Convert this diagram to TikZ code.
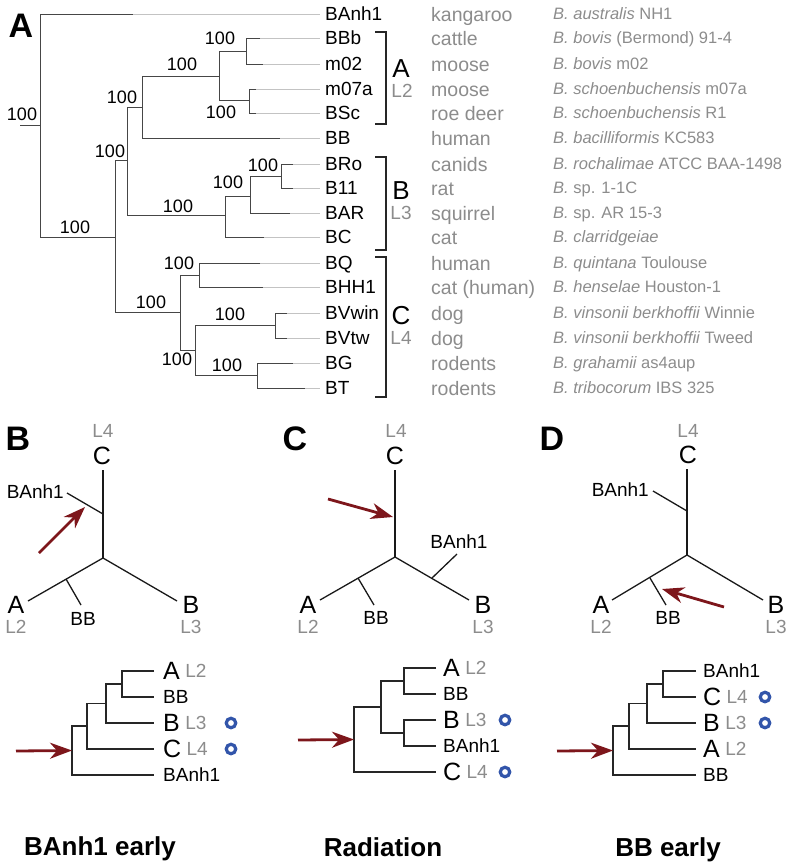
\documentclass[tikz,border=0pt]{standalone}
\usepackage{fontspec}
\setmainfont{Liberation Sans}
\usetikzlibrary{arrows.meta}
\definecolor{tg}{RGB}{140,140,140}
\definecolor{ln}{RGB}{70,70,70}
\definecolor{fade}{RGB}{195,195,195}
\definecolor{ared}{RGB}{125,22,27}
\definecolor{cblue}{RGB}{50,85,170}
\tikzset{
 tipl/.style={anchor=west, inner sep=0pt, font=\fontsize{19}{19}\selectfont, text height=13.6pt, text depth=0pt},
 bsl/.style={inner sep=0pt, font=\fontsize{18}{18}\selectfont, text height=12.9pt, text depth=0pt},
 hostl/.style={anchor=west, inner sep=0pt, text=tg, font=\fontsize{19.5}{19.5}\selectfont, text height=14pt, text depth=0pt},
 specl/.style={anchor=west, inner sep=0pt, text=tg, font=\fontsize{16.5}{16.5}\selectfont, text height=11.8pt, text depth=0pt},
 bigl/.style={inner sep=0pt, font=\fontsize{25}{25}\selectfont, text height=17.9pt, text depth=0pt},
 levl/.style={inner sep=0pt, text=tg, font=\fontsize{19}{19}\selectfont, text height=13.6pt, text depth=0pt},
 smll/.style={inner sep=0pt, font=\fontsize{19}{19}\selectfont, text height=13.6pt, text depth=0pt},
 brl/.style={inner sep=0pt, font=\fontsize{26}{26}\selectfont, text height=18.6pt, text depth=0pt},
 titl/.style={inner sep=0pt, font=\bfseries\fontsize{26}{26}\selectfont, text height=18.6pt, text depth=0pt},
 panl/.style={inner sep=0pt, font=\bfseries\fontsize{34}{34}\selectfont, text height=24.3pt, text depth=0pt},
 brk/.style={line width=1.3pt, draw=black!85},
 ibr/.style={line width=1pt, draw=ln},
 dk/.style={line width=1pt, draw=ln},
 lgt/.style={line width=1pt, draw=fade},
 ut/.style={line width=1.3pt, draw=black!90, line join=miter},
 ct/.style={line width=1.2pt, draw=black!85},
 redarr/.style={draw=ared, line width=2.8pt, -{Stealth[length=22pt,width=16pt,inset=7pt]}},
 circ/.style={circle, draw=cblue, line width=3.2pt, minimum size=9.5pt, inner sep=0pt},
}
\begin{document}
\begin{tikzpicture}[x=1pt,y=-1pt]
\useasboundingbox (0,0) rectangle (793,868);
% ================= Panel A =================
\node[panl] (pA) at (21,25) {A};
% tip labels
\node[tipl] (t1) at (325,14) {BAnh1};
\node[tipl] (t2) at (325,38) {BBb};
\node[tipl] (t3) at (325,64) {m02};
\node[tipl] (t4) at (325,89) {m07a};
\node[tipl] (t5) at (325,113) {BSc};
\node[tipl] (t6) at (325,138) {BB};
\node[tipl] (t7) at (325,164) {BRo};
\node[tipl] (t8) at (325,188) {B11};
\node[tipl] (t9) at (325,213) {BAR};
\node[tipl] (t10) at (325,237) {BC};
\node[tipl] (t11) at (325,263) {BQ};
\node[tipl] (t12) at (325,287) {BHH1};
\node[tipl] (t13) at (325,313) {BVwin};
\node[tipl] (t14) at (325,338) {BVtw};
\node[tipl] (t15) at (325,363) {BG};
\node[tipl] (t16) at (325,388) {BT};
% hosts
\node[hostl] (h1) at (431,14) {kangaroo};
\node[hostl] (h2) at (431,38) {cattle};
\node[hostl] (h3) at (431,64) {moose};
\node[hostl] (h4) at (431,89) {moose};
\node[hostl] (h5) at (431,113) {roe deer};
\node[hostl] (h6) at (431,138) {human};
\node[hostl] (h7) at (431,164) {canids};
\node[hostl] (h8) at (431,188) {rat};
\node[hostl] (h9) at (431,213) {squirrel};
\node[hostl] (h10) at (431,237) {cat};
\node[hostl] (h11) at (431,263) {human};
\node[hostl] (h12) at (431,287) {cat (human)};
\node[hostl] (h13) at (431,313) {dog};
\node[hostl] (h14) at (431,338) {dog};
\node[hostl] (h15) at (431,363) {rodents};
\node[hostl] (h16) at (431,388) {rodents};
% species
\node[specl] (s1) at (553,14) {\itshape B. australis\upshape{} NH1};
\node[specl] (s2) at (553,38) {\itshape B. bovis\upshape{} (Bermond) 91-4};
\node[specl] (s3) at (553,64) {\itshape B. bovis\upshape{} m02};
\node[specl] (s4) at (553,89) {\itshape B. schoenbuchensis\upshape{} m07a};
\node[specl] (s5) at (553,113) {\itshape B. schoenbuchensis\upshape{} R1};
\node[specl] (s6) at (553,138) {\itshape B. bacilliformis\upshape{} KC583};
\node[specl] (s7) at (553,164) {\itshape B. rochalimae\upshape{} ATCC BAA-1498};
\node[specl] (s8) at (553,188) {\itshape B.\upshape{} sp. 1-1C};
\node[specl] (s9) at (553,213) {\itshape B.\upshape{} sp. AR 15-3};
\node[specl] (s10) at (553,237) {\itshape B. clarridgeiae};
\node[specl] (s11) at (553,263) {\itshape B. quintana\upshape{} Toulouse};
\node[specl] (s12) at (553,287) {\itshape B. henselae\upshape{} Houston-1};
\node[specl] (s13) at (553,313) {\itshape B. vinsonii berkhoffii\upshape{} Winnie};
\node[specl] (s14) at (553,338) {\itshape B. vinsonii berkhoffii\upshape{} Tweed};
\node[specl] (s15) at (553,363) {\itshape B. grahamii\upshape{} as4aup};
\node[specl] (s16) at (553,388) {\itshape B. tribocorum\upshape{} IBS 325};
% internal node positions
\coordinate (Rs) at (20,125.5);
\coordinate (R) at (40,125.5);
\coordinate (N1) at (115,237);
\coordinate (N2) at (127,160);
\coordinate (N3) at (142,107);
\coordinate (N4) at (219,76);
\coordinate (N5) at (246,51);
\coordinate (N6) at (249,100);
\coordinate (N7) at (225,215);
\coordinate (N8) at (250,196);
\coordinate (N9) at (281,176);
\coordinate (N10) at (180,312);
\coordinate (N11) at (199,275);
\coordinate (N12) at (195,350);
\coordinate (N13) at (275,325.5);
\coordinate (N14) at (257,375.5);
% dark ends of tip branches
\coordinate (g1) at (133,14);
\coordinate (g2) at (260,38);
\coordinate (g3) at (263,64);
\coordinate (g4) at (256,89);
\coordinate (g5) at (256,113);
\coordinate (g6) at (280,138);
\coordinate (g7) at (293,164);
\coordinate (g8) at (293,188);
\coordinate (g9) at (290,213);
\coordinate (g10) at (264,237);
\coordinate (g11) at (260,263);
\coordinate (g12) at (263,287);
\coordinate (g13) at (287,313);
\coordinate (g14) at (287,338);
\coordinate (g15) at (293,363);
\coordinate (g16) at (305,388);
% light parts of tip branches
\foreach \i in {1,...,16}{
  \draw[lgt] (g\i) -- ([xshift=-5pt]t\i.west);
}
% root
\draw[ibr] (Rs) -- (R);
\draw[ibr] (R |- t1.west) -- (R |- N1) -- (N1);
\draw[dk] (R |- t1.west) -- (g1);
% N1
\draw[ibr] (N2) -- (N1 |- N2) -- (N1 |- N10) -- (N10);
% N2
\draw[ibr] (N3) -- (N2 |- N3) -- (N2 |- N7) -- (N7);
% N3
\draw[ibr] (N4) -- (N3 |- N4) -- (N3 |- t6.west) -- (g6);
% N4
\draw[ibr] (N5) -- (N4 |- N5) -- (N4 |- N6) -- (N6);
% N5
\draw[ibr] (g2) -- (N5 |- t2.west) -- (N5 |- t3.west) -- (g3);
% N6
\draw[ibr] (g4) -- (N6 |- t4.west) -- (N6 |- t5.west) -- (g5);
% N7
\draw[ibr] (N8) -- (N7 |- N8) -- (N7 |- t10.west) -- (g10);
% N8
\draw[ibr] (N9) -- (N8 |- N9) -- (N8 |- t9.west) -- (g9);
% N9
\draw[ibr] (g7) -- (N9 |- t7.west) -- (N9 |- t8.west) -- (g8);
% N10
\draw[ibr] (N11) -- (N10 |- N11) -- (N10 |- N12) -- (N12);
% N11
\draw[ibr] (g11) -- (N11 |- t11.west) -- (N11 |- t12.west) -- (g12);
% N12
\draw[ibr] (N13) -- (N12 |- N13) -- (N12 |- N14) -- (N14);
% N13
\draw[ibr] (g13) -- (N13 |- t13.west) -- (N13 |- t14.west) -- (g14);
% N14
\draw[ibr] (g15) -- (N14 |- t15.west) -- (N14 |- t16.west) -- (g16);
% bootstrap values
\node[bsl] (b0) at (22,114) {100};
\node[bsl] (b1) at (75,227) {100};
\node[bsl] (b2) at (110,151) {100};
\node[bsl] (b3) at (122,97) {100};
\node[bsl] (b4) at (182,64) {100};
\node[bsl] (b5) at (220,38) {100};
\node[bsl] (b6) at (221,112) {100};
\node[bsl] (b7) at (178,206) {100};
\node[bsl] (b8) at (228,182) {100};
\node[bsl] (b9) at (263,165) {100};
\node[bsl] (b10) at (151,302) {100};
\node[bsl] (b11) at (179,263) {100};
\node[bsl] (b12) at (177,359) {100};
\node[bsl] (b13) at (230,314) {100};
\node[bsl] (b14) at (227,365) {100};
% brackets
\coordinate (kA1) at (375,32); \coordinate (kA2) at (386,124);
\coordinate (kB1) at (375,157); \coordinate (kB2) at (386,250);
\coordinate (kC1) at (375,257); \coordinate (kC2) at (386,397);
\draw[brk] (kA1) -| (kA2) -- (kA1 |- kA2);
\draw[brk] (kB1) -| (kB2) -- (kB1 |- kB2);
\draw[brk] (kC1) -| (kC2) -- (kC1 |- kC2);
\node[brl] (gA) at (401,68) {A};
\node[levl] (gAL) at (402,91) {L2};
\node[brl] (gB) at (401,190) {B};
\node[levl] (gBL) at (401,213) {L3};
\node[brl] (gC) at (401,315) {C};
\node[levl] (gCL) at (401,338) {L4};
% ================= Panel B =================
\node[panl] (pB) at (18,438) {B};
\node[levl] (uBL4) at (103,431) {L4};
\node[bigl] (uBC) at (102,456) {C};
\coordinate (uBct) at (103,470);
\coordinate (uBc) at (103,558);
\coordinate (uBa) at (28,601);
\coordinate (uBb) at (177,601);
\coordinate (uBx1) at (103,514);
\coordinate (uBx2) at (67,493);
\coordinate (uBy1) at (66,579);
\coordinate (uBy2) at (81,605);
\draw[ut] (uBct) -- (uBc);
\draw[ut] (uBa) -- (uBc) -- (uBb);
\draw[ut] (uBx1) -- (uBx2);
\draw[ut] (uBy1) -- (uBy2);
\node[smll, anchor=east] (uBX) at (64,492) {BAnh1};
\node[smll] (uBBB) at (83,619) {BB};
\node[bigl] (uBA) at (16,605) {A};
\node[levl] (uBL2) at (16,627) {L2};
\node[bigl] (uBB) at (191,605) {B};
\node[levl] (uBL3) at (191,627) {L3};
\coordinate (uBr) at (39,553);
\coordinate (uBr2) at (85,507);
\draw[redarr] (uBr) -- (uBr2);
% lower tree B
\node[bigl, anchor=west] (bA) at (163,671) {A};
\node[levl, anchor=west] (bAL) at ([xshift=5pt]bA.east) {L2};
\node[smll, anchor=west] (bBB) at (163,697) {BB};
\node[bigl, anchor=west] (bB) at (163,723) {B};
\node[levl, anchor=west] (bBL) at ([xshift=5pt]bB.east) {L3};
\node[bigl, anchor=west] (bC) at (163,749) {C};
\node[levl, anchor=west] (bCL) at ([xshift=5pt]bC.east) {L4};
\node[smll, anchor=west] (bX) at (163,775) {BAnh1};
\node[circ] (bo1) at (231,723) {};
\node[circ] (bo2) at (231,749) {};
\coordinate (bn1) at (122,684);
\coordinate (bn2) at (106,703.5);
\coordinate (bn3) at (87,726);
\coordinate (bn4) at (72,750.5);
\draw[ct] ([xshift=-9pt]bA.west) -| (bn1) |- ([xshift=-9pt]bBB.west);
\draw[ct] (bn1) -| (bn2) |- ([xshift=-9pt]bB.west);
\draw[ct] (bn2) -| (bn3) |- ([xshift=-9pt]bC.west);
\draw[ct] (bn3) -| (bn4) |- ([xshift=-9pt]bX.west);
\coordinate (bar) at (16,751);
\draw[redarr] (bar) -- (bn4);
\node[titl] (tB) at (100,846) {BAnh1 early};
% ================= Panel C =================
\node[panl] (pC) at (295,438) {C};
\node[levl] (uCL4) at (396,431) {L4};
\node[bigl] (uCC) at (395,456) {C};
\coordinate (uCct) at (395,470);
\coordinate (uCc) at (395,557);
\coordinate (uCa) at (320,600);
\coordinate (uCb) at (469,600);
\coordinate (uCy1) at (358,578);
\coordinate (uCy2) at (374,605);
\coordinate (uCx1) at (432,578);
\coordinate (uCx2) at (457,554);
\draw[ut] (uCct) -- (uCc);
\draw[ut] (uCa) -- (uCc) -- (uCb);
\draw[ut] (uCx1) -- (uCx2);
\draw[ut] (uCy1) -- (uCy2);
\node[smll] (uCX) at (459,542) {BAnh1};
\node[smll] (uCBB) at (376,618) {BB};
\node[bigl] (uCA) at (308,605) {A};
\node[levl] (uCL2) at (308,627) {L2};
\node[bigl] (uCB) at (483,605) {B};
\node[levl] (uCL3) at (483,627) {L3};
\coordinate (uCr) at (328,499);
\coordinate (uCr2) at (393,517);
\draw[redarr] (uCr) -- (uCr2);
% lower tree C
\node[bigl, anchor=west] (cA) at (443,668) {A};
\node[levl, anchor=west] (cAL) at ([xshift=5pt]cA.east) {L2};
\node[smll, anchor=west] (cBB) at (443,694) {BB};
\node[bigl, anchor=west] (cB) at (443,720) {B};
\node[levl, anchor=west] (cBL) at ([xshift=5pt]cB.east) {L3};
\node[smll, anchor=west] (cX) at (443,746) {BAnh1};
\node[bigl, anchor=west] (cC) at (443,772) {C};
\node[levl, anchor=west] (cCL) at ([xshift=5pt]cC.east) {L4};
\node[circ] (co1) at (505,720) {};
\node[circ] (co2) at (505,772) {};
\coordinate (cn1) at (404,681);
\coordinate (cn2) at (404,733);
\coordinate (cn3) at (381,707);
\coordinate (cn4) at (354,739.5);
\draw[ct] ([xshift=-7pt]cA.west) -| (cn1) |- ([xshift=-7pt]cBB.west);
\draw[ct] ([xshift=-7pt]cB.west) -| (cn2) |- ([xshift=-7pt]cX.west);
\draw[ct] (cn1) -| (cn3) |- (cn2);
\draw[ct] (cn3) -| (cn4) |- ([xshift=-7pt]cC.west);
\coordinate (car) at (298,740);
\draw[redarr] (car) -- (cn4);
\node[titl] (tC) at (383,847) {Radiation};
% ================= Panel D =================
\node[panl] (pD) at (552,438) {D};
\node[levl] (uDL4) at (688,431) {L4};
\node[bigl] (uDC) at (688,455) {C};
\coordinate (uDct) at (687,469);
\coordinate (uDc) at (687,555);
\coordinate (uDa) at (612,600);
\coordinate (uDb) at (763,600);
\coordinate (uDx1) at (687,511);
\coordinate (uDx2) at (653,491);
\coordinate (uDy1) at (650,578);
\coordinate (uDy2) at (666,605);
\draw[ut] (uDct) -- (uDc);
\draw[ut] (uDa) -- (uDc) -- (uDb);
\draw[ut] (uDx1) -- (uDx2);
\draw[ut] (uDy1) -- (uDy2);
\node[smll, anchor=east] (uDX) at (649,490) {BAnh1};
\node[smll] (uDBB) at (668,618) {BB};
\node[bigl] (uDA) at (601,605) {A};
\node[levl] (uDL2) at (601,627) {L2};
\node[bigl] (uDB) at (776,605) {B};
\node[levl] (uDL3) at (776,627) {L3};
\coordinate (uDr) at (724,607);
\coordinate (uDr2) at (662,589);
\draw[redarr] (uDr) -- (uDr2);
% lower tree D
\node[smll, anchor=west] (dX) at (703,671) {BAnh1};
\node[bigl, anchor=west] (dC) at (703,697) {C};
\node[levl, anchor=west] (dCL) at ([xshift=5pt]dC.east) {L4};
\node[bigl, anchor=west] (dB) at (703,723) {B};
\node[levl, anchor=west] (dBL) at ([xshift=5pt]dB.east) {L3};
\node[bigl, anchor=west] (dA) at (703,749) {A};
\node[levl, anchor=west] (dAL) at ([xshift=5pt]dA.east) {L2};
\node[smll, anchor=west] (dBB) at (703,775) {BB};
\node[circ] (do1) at (765,697) {};
\node[circ] (do2) at (765,723) {};
\coordinate (dn1) at (663,684);
\coordinate (dn2) at (647,703.5);
\coordinate (dn3) at (629,726);
\coordinate (dn4) at (613,750.5);
\draw[ct] ([xshift=-7pt]dX.west) -| (dn1) |- ([xshift=-7pt]dC.west);
\draw[ct] (dn1) -| (dn2) |- ([xshift=-7pt]dB.west);
\draw[ct] (dn2) -| (dn3) |- ([xshift=-7pt]dA.west);
\draw[ct] (dn3) -| (dn4) |- ([xshift=-7pt]dBB.west);
\coordinate (dar) at (557,751);
\draw[redarr] (dar) -- (dn4);
\node[titl] (tD) at (668,847) {BB early};
\end{tikzpicture}
\end{document}
